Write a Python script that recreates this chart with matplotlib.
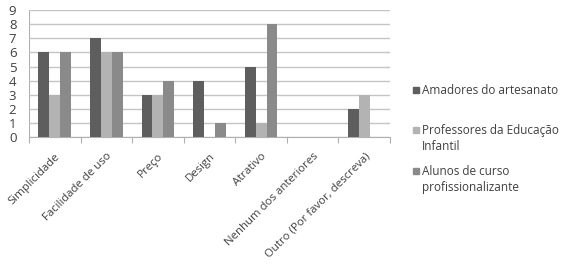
import numpy as np
import matplotlib.pyplot as plt
from matplotlib.patches import Rectangle

categorias = ['Simplicidade', 'Facilidade de uso', 'Preço', 'Design', 'Atrativo',
              'Nenhum dos anteriores', 'Outro (Por favor, descreva)']
amadores = [6, 7, 3, 4, 5, 0, 2]
professores = [3, 6, 3, 0, 1, 0, 3]
alunos = [6, 6, 4, 1, 8, 0, 0]
series = ['Amadores do artesanato', 'Professores da Educação\nInfantil',
          'Alunos de curso\nprofissionalizante']
cores = ['#5e5e5e', '#b3b3b3', '#8a8a8a']

plt.rcParams['font.family'] = ['Open Sans', 'DejaVu Sans']

fig = plt.figure(figsize=(5.67, 2.71), dpi=100)
ax = fig.add_axes([0.051, 0.494, 0.637, 0.469])

x = np.arange(len(categorias))
w = 0.21
for i, (vals, cor) in enumerate(zip([amadores, professores, alunos], cores)):
    ax.bar(x + (i - 1) * w, vals, w, color=cor, zorder=3, linewidth=0)

ax.set_xlim(-0.5, len(categorias) - 0.5)
ax.set_ylim(0, 9)
ax.set_yticks(range(10))
ax.yaxis.grid(True, color='#c4c4c4', linewidth=1.0, zorder=0)
for s in ['top', 'right', 'left']:
    ax.spines[s].set_visible(False)
ax.spines['bottom'].set_color('#b0b0b0')
ax.tick_params(axis='y', length=0, labelsize=9.5, colors='#404040', pad=9)

ax.set_xticks(np.arange(-0.5, len(categorias)), minor=False)
ax.set_xticklabels([])
ax.tick_params(axis='x', which='major', length=4, color='#b0b0b0', direction='out')
ax.set_xticks(x, minor=True)
ax.set_xticklabels(categorias, minor=True, rotation=45, ha='right',
                   rotation_mode='anchor', fontsize=8.2, color='#404040')
ax.tick_params(axis='x', which='minor', length=0, pad=10)

ax.axvline(-0.5, color='#b0b0b0', linewidth=0.8, zorder=1)

# legenda manual, marcador alinhado com a primeira linha
W, H = 567, 271
centros_y = [90, 130, 171]
for nome, cor, cy in zip(series, cores, centros_y):
    fig.patches.append(Rectangle((413 / W, 1 - (cy + 3) / H), 6 / W, 6 / H,
                                 transform=fig.transFigure, color=cor))
    fig.text(422 / W, 1 - (cy - 6) / H, nome, fontsize=8.5, color='#404040',
             va='top', ha='left', linespacing=1.3)

fig.savefig('out.png', dpi=100)
